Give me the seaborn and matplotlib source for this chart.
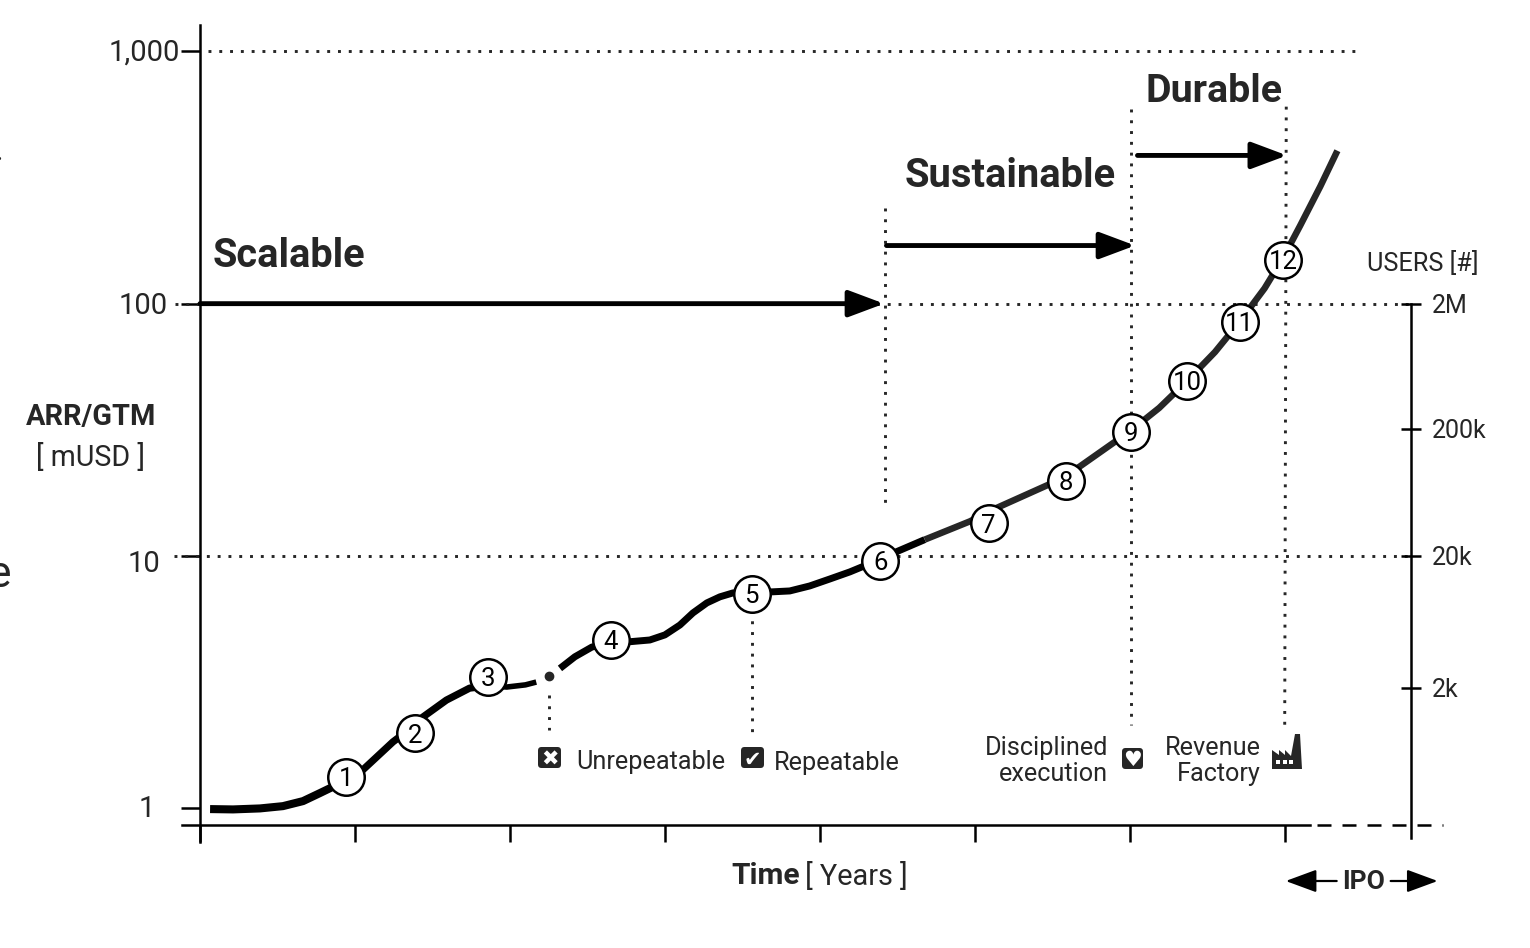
import pandas as pd
import matplotlib.pyplot as plt
import seaborn as sns
from matplotlib.patches import FancyBboxPatch, Polygon, Rectangle
from matplotlib.transforms import IdentityTransform, ScaledTranslation

# curva ARR por tempo (cada trecho tem sua espessura)
years_a = [0.065, 0.213, 0.387, 0.535, 0.665, 0.774, 0.852, 0.94, 1.05]
arr_a = [0.991, 0.988, 0.997, 1.018, 1.066, 1.147, 1.21, 1.33, 1.416]
years_b = [1.05, 1.245, 1.387, 1.44, 1.59, 1.74, 1.86]
arr_b = [1.416, 1.83, 2.13, 2.30, 2.68, 2.99, 3.05]
years_c = [1.86, 1.98, 2.10, 2.17]
arr_c = [3.05, 3.02, 3.08, 3.16]
years_d = [2.323, 2.419, 2.529, 2.645, 2.761, 2.903, 3.0, 3.097, 3.181, 3.271, 3.355, 3.439, 3.561, 3.69, 3.806,
           3.935, 4.065, 4.194, 4.277, 4.394, 4.497, 4.677]
arr_d = [3.58, 3.98, 4.35, 4.52, 4.56, 4.64, 4.86, 5.32, 5.94, 6.51, 6.88, 7.13, 7.20, 7.20, 7.26,
         7.60, 8.10, 8.64, 9.07, 9.73, 10.4, 11.6]
years_e = [4.677, 4.968, 5.142, 5.471, 5.594, 5.677, 5.903, 6.013, 6.19, 6.37, 6.55, 6.71, 6.87, 6.99, 7.10, 7.23, 7.34]
arr_e = [11.6, 13.7, 15.5, 19.1, 21.1, 22.6, 28.3, 31.6, 38.6, 49.4, 64.3, 84.9, 115, 152, 204, 292, 404]

# marcos numerados
stage_years = [0.94, 1.39, 1.86, 2.65, 3.56, 4.39, 5.09, 5.59, 6.01, 6.37, 6.71, 6.99]
stage_arr = [1.33, 1.98, 3.31, 4.64, 7.07, 9.55, 13.5, 19.9, 31.0, 49.4, 84.9, 149.6]
stage_labels = ["1", "2", "3", "4", "5", "6", "7", "8", "9", "10", "11", "12"]

# eixos
time_ticks = [0, 1, 2, 3, 4, 5, 6, 7]
arr_ticks = [1, 10, 100, 1000]
arr_labels = ["1", "10", "100", "1,000"]
arr_pads = [19, 15, 10, 1]
arr_shift = [2, -5, 1, 2]
users_pos = [100, 31.9, 10, 3.0]
users_labels = ["2M", "200k", "20k", "2k"]

# flechas das fases
phase_names = ["Scalable", "Sustainable", "Durable"]
phase_start = [0.0, 4.43, 6.05]
phase_end = [4.40, 6.02, 7.00]
phase_arr = [100, 170, 387]

INK = "#262626"
BLACK = "#000000"
DOTS = (0, (1, 2.7))

sns.set_theme(style="white")
plt.rcParams["font.family"] = ["Roboto", "DejaVu Sans"]

fig, ax = plt.subplots(figsize=(15.3, 9.48), dpi=100)
fig.subplots_adjust(left=200 / 1530, right=1411 / 1530, top=1 - 25 / 948, bottom=1 - 825 / 948)


def put(x, y, s, **kw):
    # texto de anotacao em pixels da imagem
    kw.setdefault("va", "center")
    kw.setdefault("color", INK)
    return fig.text(x / 1530, 1 - y / 948, s, **kw)


def fig_xy(x, y):
    return (x / 1530, 1 - y / 948)


def dotted(xs, ys):
    ax.plot(xs, ys, color=INK, lw=2.1, ls=DOTS, clip_on=False, zorder=1)


def icon_box(x0, y0, w, h, glyph):
    fig.add_artist(FancyBboxPatch((x0, 948 - y0 - h), w, h, boxstyle="round,pad=0,rounding_size=3.5",
                                  fc=INK, ec="none", transform=IdentityTransform()))
    put(x0 + w / 2, y0 + h / 2, glyph, ha="center", va="center_baseline", fontsize=15, color="white",
        family=["DejaVu Sans"])


ax.set_yscale("log")
ax.set_xlim(0, 7.815)
ax.set_ylim(0.857, 1273)

# linhas pontilhadas
dotted([0.05, 7.48], [1000, 1000])
dotted([-0.16, 7.81], [100, 100])
dotted([-0.17, 7.81], [10, 10])
dotted([4.42, 4.42], [240, 15.9])
dotted([6.01, 6.01], [589, 2.13])
dotted([7.01, 7.00], [604, 2.13])
dotted([2.25, 2.25], [2.81, 2.04])
dotted([3.56, 3.56], [6.1, 1.98])

# curva
segments = [
    (years_a, arr_a, 5.8, BLACK),
    (years_b, arr_b, 5.2, BLACK),
    (years_c, arr_c, 4.0, BLACK),
    (years_d, arr_d, 5.0, BLACK),
    (years_e, arr_e, 4.7, "#262626"),
]
for xs, ys, lw, col in segments:
    seg = pd.DataFrame({"years": xs, "arr": ys})
    sns.lineplot(data=seg, x="years", y="arr", color=col, lw=lw, estimator=None, sort=False,
                 ax=ax, zorder=3, solid_capstyle="butt", solid_joinstyle="round", clip_on=False)
ax.plot([2.25], [3.34], "o", ms=6, color=INK, zorder=3)

# marcos
stages = pd.DataFrame({"years": stage_years, "arr": stage_arr})
sns.scatterplot(data=stages, x="years", y="arr", s=690, color="white", edgecolor=BLACK, linewidth=1.8,
                ax=ax, zorder=4, clip_on=False)
for xv, yv, lab in zip(stage_years, stage_arr, stage_labels):
    ax.text(xv, yv, lab, ha="center", va="center_baseline", fontsize=18.5, color=BLACK, zorder=5)

# flechas
for x0, x1, yv in zip(phase_start, phase_end, phase_arr):
    ax.annotate("", xy=(x1 + 0.015, yv), xytext=(x0, yv), zorder=2,
                arrowprops=dict(arrowstyle="-|>,head_length=1.55,head_width=0.58", lw=3.5, color=BLACK,
                                shrinkA=0, shrinkB=0, mutation_scale=14))
put(213, 256, phase_names[0], fontsize=28.6, fontweight="bold")
put(905, 176, phase_names[1], fontsize=28.7, fontweight="bold")
put(1146, 91, phase_names[2], fontsize=28.4, fontweight="bold")

# eixos
sns.despine(ax=ax)
ax.set_xticks(time_ticks, labels=[])
ax.set_yticks(arr_ticks, labels=arr_labels)
ax.minorticks_off()
ax.set_xlabel("")
ax.set_ylabel("")
ax.tick_params(axis="x", bottom=True, length=12.5, width=1.8, color=BLACK)
ax.tick_params(axis="y", left=True, length=13.5, width=1.8, color=BLACK, labelsize=21, labelcolor=INK)
for tk, pad, dy in zip(ax.yaxis.get_major_ticks(), arr_pads, arr_shift):
    tk.set_pad(pad)
    tk.label1.set_transform(tk.label1.get_transform() + ScaledTranslation(0, dy / 100, fig.dpi_scale_trans))
for side in ["left", "bottom"]:
    ax.spines[side].set_linewidth(1.8)
    ax.spines[side].set_color(BLACK)
ax.spines["left"].set_bounds(0.733, 1273)
ax.spines["bottom"].set_bounds(-0.116, 7.16)
ax.plot([7.207, 8.02], [0.857, 0.857], color=BLACK, lw=1.8, ls=(0, (5.6, 4.4)), clip_on=False, zorder=2)

# eixo de usuarios
ax2 = ax.twinx()
ax2.set_yscale("log")
ax2.set_ylim(ax.get_ylim())
ax2.set_yticks(users_pos, labels=users_labels)
ax2.minorticks_off()
ax2.grid(False)
for side in ["left", "top", "bottom"]:
    ax2.spines[side].set_visible(False)
ax2.spines["right"].set_linewidth(1.8)
ax2.spines["right"].set_color(BLACK)
ax2.spines["right"].set_bounds(0.76, 100)
ax2.tick_params(axis="y", right=True, direction="inout", length=14.5, width=1.8, color=BLACK, pad=8,
                labelsize=18, labelcolor=INK)

# rotulos
put(91, 417, "ARR/GTM", ha="center", fontsize=20.8, fontweight="bold")
put(91, 457, "[ mUSD ]", ha="center", fontsize=20.6)
put(731, 876, "Time", fontsize=21.5, fontweight="bold")
put(805, 876, "[ Years ]", fontsize=20.8)
put(1367, 264, "USERS [#]", fontsize=18.2)
put(1342, 882, "IPO", fontsize=19, fontweight="bold")
put(576, 762, "Unrepeatable", fontsize=18.2)
put(774, 763, "Repeatable", fontsize=18.2)
put(1108, 761, "Disciplined\nexecution", ha="right", fontsize=18.2, linespacing=1.06)
put(1261, 761, "Revenue\nFactory", ha="right", fontsize=18.2, linespacing=1.06)

# flechas do IPO
for x0, x1 in [((1337 - 200) / 155, (1286 - 200) / 155), ((1391 - 200) / 155, (1438 - 200) / 155)]:
    ax.annotate("", xy=(x1, -0.07), xytext=(x0, -0.07), xycoords=ax.get_xaxis_transform(),
                textcoords=ax.get_xaxis_transform(), annotation_clip=False,
                arrowprops=dict(arrowstyle="-|>,head_length=1.9,head_width=0.7", lw=1.6, color=BLACK,
                                shrinkA=0, shrinkB=0, mutation_scale=10))

# icones
icon_box(538, 747, 23, 21, "\u2716")
icon_box(741, 747, 23, 21, "\u2714")
icon_box(1122, 748, 21, 21, "\u2665")

factory = [(1272, 769), (1272, 750), (1279, 755), (1279, 750), (1285, 755), (1285, 750), (1291, 756),
           (1295, 734), (1300, 734), (1302, 769)]
fig.add_artist(Polygon([fig_xy(*p) for p in factory], closed=True, fc=INK, ec="none", transform=fig.transFigure))
for wx in [1276, 1283, 1289]:
    fig.add_artist(Rectangle(fig_xy(wx, 764), 4 / 1530, 4 / 948, fc="white", ec="none", transform=fig.transFigure))

# restos de texto cortados na margem esquerda
put(0, 152, ".", ha="center", fontsize=20)
put(0, 575, "e", ha="center", fontsize=32)

fig.savefig("out.png", dpi=100)
